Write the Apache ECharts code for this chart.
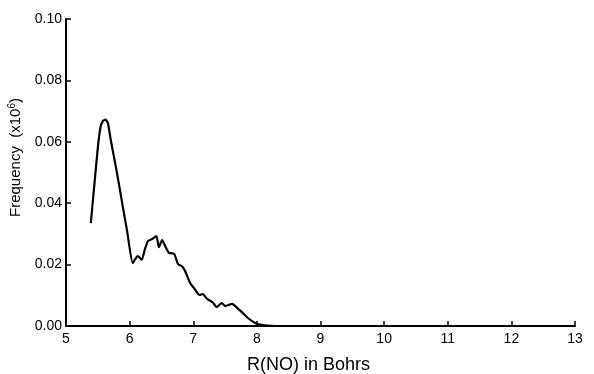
<!DOCTYPE html>
<html>
<head>
<meta charset="utf-8">
<script src="https://cdn.jsdelivr.net/npm/echarts@6/dist/echarts.min.js"></script>
<style>html,body{margin:0;padding:0;background:#fff}#c{width:594px;height:374px}</style>
</head>
<body>
<div id="c"></div>
<script>
var rValues = [5.39,5.45,5.50,5.54,5.58,5.62,5.66,5.70,5.80,5.90,5.96,6.05,6.10,6.13,6.19,6.24,6.29,6.35,6.42,6.46,6.51,6.56,6.62,6.70,6.76,6.82,6.87,6.95,7.01,7.10,7.15,7.22,7.30,7.37,7.45,7.50,7.61,7.71,7.78,7.86,7.97,8.10,8.30];
var freqValues = [0.0335,0.047,0.058,0.0645,0.0668,0.0672,0.066,0.061,0.050,0.038,0.031,0.0205,0.0222,0.0228,0.0216,0.025,0.0277,0.0283,0.0293,0.0257,0.0280,0.026,0.0238,0.0235,0.0202,0.0195,0.018,0.014,0.0124,0.0101,0.0104,0.0088,0.0078,0.0062,0.0075,0.0065,0.0072,0.0055,0.0042,0.0026,0.0010,0.0003,0.0];
var xTicks = {min:5, max:13, step:1};
var yTicks = {min:0, max:0.10, step:0.02};

var data = rValues.map(function(r,i){return [r, freqValues[i]];});
var font = 'Liberation Sans';
var chart = echarts.init(document.getElementById('c'), null, {renderer:'canvas'});
chart.setOption({
  animation:false,
  backgroundColor:'#fff',
  grid:{left:66, right:19, top:19, bottom:48, containLabel:false, outerBoundsMode:'none'},
  xAxis:{
    type:'value', min:xTicks.min, max:xTicks.max, interval:xTicks.step,
    name:'R(NO) in Bohrs', nameLocation:'middle', nameGap:30,
    nameTextStyle:{color:'#000', fontSize:18, fontFamily:font, padding:[0,24,0,0]},
    axisLine:{lineStyle:{color:'#000', width:2}},
    axisTick:{inside:true, length:5, lineStyle:{color:'#000', width:1.5}},
    axisLabel:{color:'#000', fontSize:14, fontFamily:font, margin:6},
    splitLine:{show:false}
  },
  yAxis:{
    type:'value', min:yTicks.min, max:yTicks.max, interval:yTicks.step,
    name:'Frequency  (x10{sup|6})', nameLocation:'middle', nameGap:40,
    nameTextStyle:{color:'#000', fontSize:15, fontFamily:font, padding:[0,0,0,30],
      rich:{sup:{fontSize:10, verticalAlign:'bottom', padding:[0,0,8,0], fontFamily:font, color:'#000'}}},
    axisLine:{show:true, lineStyle:{color:'#000', width:2}},
    axisTick:{show:true, inside:true, length:5, lineStyle:{color:'#000', width:1.5}},
    axisLabel:{color:'#000', fontSize:14, fontFamily:font, margin:4,
      formatter:function(v){return v.toFixed(2);}},
    splitLine:{show:false}
  },
  series:[{
    type:'line', data:data, showSymbol:false, smooth:0.2,
    lineStyle:{color:'#000', width:2.2}
  }]
});
</script>
</body>
</html>
